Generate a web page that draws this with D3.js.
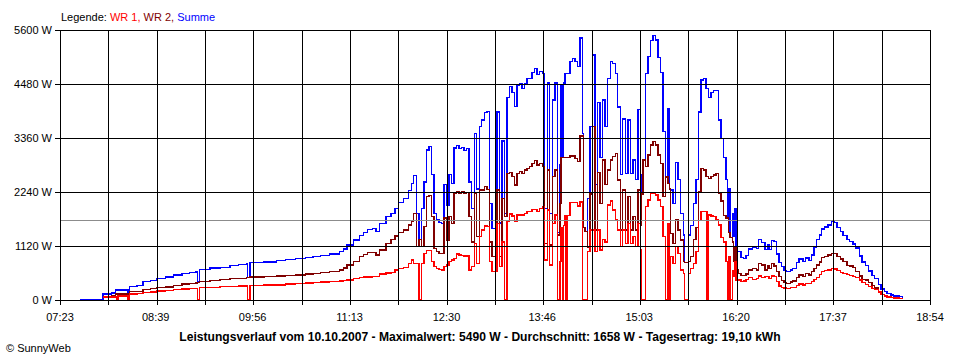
<!DOCTYPE html>
<html>
<head>
<meta charset="utf-8">
<script src="https://cdn.jsdelivr.net/npm/d3@7"></script>
<style>
  body { margin: 0; background: #fff; }
  svg text { font-family: "Liberation Sans", Arial, sans-serif; }
</style>
</head>
<body>
<svg id="chart" width="960" height="360"></svg>
<script>
// Leistungsverlauf 10.10.2007, values in W
const times = [
  "07:39", "07:57", "08:04", "08:07", "08:08", "08:09", "08:17", "08:18", "08:24", "08:29",
  "08:35", "08:40", "08:47", "08:53", "09:00", "09:06", "09:11", "09:12", "09:14", "09:22",
  "09:30", "09:38", "09:45", "09:51", "09:52", "09:54", "10:05", "10:15", "10:22", "10:30",
  "10:38", "10:44", "10:50", "10:57", "11:05", "11:08", "11:11", "11:16", "11:21", "11:24",
  "11:27", "11:31", "11:34", "11:37", "11:42", "11:46", "11:49", "11:52", "11:56", "12:00",
  "12:02", "12:04", "12:06", "12:08", "12:10", "12:12", "12:14", "12:16", "12:18", "12:20",
  "12:22", "12:24", "12:26", "12:28", "12:30", "12:32", "12:34", "12:36", "12:38", "12:40",
  "12:42", "12:44", "12:46", "12:48", "12:50", "12:52", "12:54", "12:56", "12:58", "13:00",
  "13:02", "13:04", "13:06", "13:08", "13:10", "13:12", "13:14", "13:16", "13:18", "13:20",
  "13:22", "13:24", "13:26", "13:28", "13:30", "13:32", "13:34", "13:36", "13:38", "13:40",
  "13:42", "13:44", "13:46", "13:48", "13:50", "13:52", "13:54", "13:56", "13:58", "14:00",
  "14:01", "14:02", "14:03", "14:04", "14:05", "14:06", "14:08", "14:10", "14:12", "14:14",
  "14:16", "14:18", "14:19", "14:20", "14:22", "14:24", "14:26", "14:28", "14:30", "14:32",
  "14:34", "14:36", "14:38", "14:40", "14:42", "14:44", "14:46", "14:48", "14:50", "14:52",
  "14:54", "14:56", "14:58", "15:00", "15:02", "15:04", "15:05", "15:06", "15:08", "15:10",
  "15:12", "15:14", "15:16", "15:18", "15:20", "15:22", "15:24", "15:26", "15:27", "15:28",
  "15:30", "15:32", "15:34", "15:36", "15:38", "15:39", "15:42", "15:44", "15:46", "15:48",
  "15:50", "15:52", "15:54", "15:56", "15:57", "15:58", "16:00", "16:02", "16:04", "16:06",
  "16:08", "16:10", "16:12", "16:13", "16:14", "16:15", "16:17", "16:18", "16:19", "16:20",
  "16:22", "16:24", "16:26", "16:28", "16:30", "16:33", "16:36", "16:38", "16:40", "16:43",
  "16:45", "16:46", "16:48", "16:50", "16:52", "16:54", "16:56", "16:58", "17:00", "17:03",
  "17:05", "17:08", "17:10", "17:13", "17:15", "17:18", "17:20", "17:22", "17:24", "17:26",
  "17:28", "17:30", "17:33", "17:36", "17:38", "17:40", "17:43", "17:45", "17:48", "17:50",
  "17:53", "17:55", "17:58", "18:00", "18:03", "18:05", "18:08", "18:10", "18:13", "18:15",
  "18:18", "18:20", "18:23", "18:25", "18:28", "18:30", "18:32"
];

const summe = [
  15, 124, 145, 207, 207, 207, 151, 276, 300, 380,
  410, 450, 475, 518, 545, 570, 590, 370, 637, 660,
  680, 710, 740, 760, 465, 775, 790, 815, 835, 855,
  880, 898, 925, 954, 1002, 1060, 1141, 1244, 1340, 1400,
  1466, 1487, 1417, 1591, 1728, 1800, 1900, 2018, 2100, 2270,
  2420, 2579, 1800, 1250, 1900, 2450, 3111, 3180, 2600, 1800,
  1659, 1604, 1590, 2400, 1970, 2600, 2419, 3150, 3201, 3145,
  3166, 3100, 3138, 2450, 1900, 3450, 2300, 3594, 3733, 3885,
  3906, 2000, 1486, 1486, 3900, 1600, 3300, 1800, 4200, 4424,
  4300, 4009, 4450, 4480, 4390, 4493, 4600, 4597, 4714, 4800,
  4680, 4735, 4701, 1900, 4500, 1800, 4148, 4500, 1400, 2800,
  4450, 2950, 4500, 4700, 4700, 4700, 4950, 5005, 4943, 4839,
  5430, 3450, 1500, 1417, 2100, 3600, 5081, 2400, 4100, 2950,
  4150, 3600, 4600, 4950, 4900, 4701, 4000, 2600, 3750, 2627,
  3733, 2627, 2900, 2500, 3950, 2600, 2200, 2900, 4701, 5050,
  5380, 5490, 5393, 5030, 4720, 3500, 2550, 3960, 2300, 2282,
  2000, 2850, 2500, 1800, 1348, 780, 1350, 1550, 2000, 2500,
  3900, 4563, 4600, 4390, 4390, 4200, 4300, 4350, 4350, 3733,
  3350, 2950, 2500, 1700, 2300, 1300, 1800, 1313, 1900, 1000,
  1003, 885, 860, 920, 1060, 1086, 1071, 1258, 1189, 1050,
  1150, 1050, 1230, 1210, 950, 774, 690, 615, 588, 622,
  657, 780, 851, 795, 870, 820, 930, 1086, 1250, 1350,
  1473, 1514, 1555, 1625, 1604, 1507, 1417, 1341, 1252, 1217,
  1162, 1080, 913, 789, 710, 600, 510, 440, 320, 229,
  180, 131, 104, 83, 83, 69, 28
];

const wr2 = [
  null, 62, 83, 124, 124, 124, 124, 172, 180, 222,
  235, 255, 270, 300, 330, 345, 355, 365, 380, 400,
  420, 440, 450, 465, 470, 475, 485, 500, 510, 518,
  540, 554, 570, 587, 622, 660, 726, 794, 898, 940,
  981, 981, 933, 1037, 1176, 1250, 1327, 1400, 1452, 1555,
  1625, 1800, 1106, 1250, 1106, 1521, 2143, 2164, 1728, 1071,
  1002, 968, 968, 1700, 1244, 1728, 1590, 2212, 2247, 2212,
  2247, 2212, 2226, 1728, 1200, 2212, 1313, 2281, 2281, 2350,
  2295, 1200, 898, 898, 2281, 900, 2100, 1728, 2627, 2641,
  2558, 2385, 2627, 2662, 2627, 2696, 2731, 2765, 2834, 2890,
  2800, 2834, 2765, 1175, 2696, 1140, 2558, 2696, 1350, 2000,
  2950, 2950, 2950, 2950, 2950, 2950, 2986, 2986, 2938, 2869,
  3400, 3400, 1500, 1417, 1100, 2200, 3600, 1452, 2650, 2005,
  2900, 2400, 2696, 2900, 2973, 3042, 2489, 1452, 2281, 1452,
  2143, 1452, 1728, 1452, 2281, 1550, 2200, 2900, 2765, 3007,
  3215, 3284, 3215, 3007, 2834, 2143, 2550, 2420, 2300, 1383,
  1175, 1659, 1452, 1244, 795, 780, 800, 900, 1250, 1500,
  2250, 2731, 2696, 2558, 2558, 2523, 2558, 2592, 2627, 2212,
  2050, 1750, 1700, 1700, 1400, 1300, 1200, 800, 1100, 620,
  553, 505, 505, 539, 622, 657, 622, 761, 726, 622,
  705, 650, 761, 705, 588, 484, 401, 366, 346, 373,
  394, 463, 519, 484, 553, 519, 588, 657, 726, 788,
  885, 906, 933, 968, 961, 899, 850, 795, 719, 705,
  678, 588, 498, 429, 415, 360, 304, 249, 173, 118,
  95, 69, 55, 45, 45, 35, 14
];

const wr1 = [
  null, 62, 62, 62, 0, 83, 0, 124, 135, 151,
  170, 187, 200, 222, 230, 238, 243, 0, 255, 262,
  276, 282, 290, 295, 0, 305, 311, 315, 330, 340,
  350, 359, 370, 380, 394, 405, 415, 440, 471, 475,
  480, 483, 490, 539, 560, 566, 622, 650, 678, 760,
  829, 760, 760, 0, 760, 968, 1023, 1023, 795, 691,
  657, 636, 622, 700, 726, 795, 829, 864, 954, 933,
  919, 912, 912, 622, 700, 1175, 760, 1313, 1452, 1535,
  1521, 800, 587, 587, 1590, 700, 1200, 0, 1624, 1783,
  1742, 1624, 1763, 1763, 1763, 1797, 1832, 1832, 1880, 1880,
  1832, 1901, 1936, 829, 1866, 726, 1590, 1763, 0, 800,
  1500, 0, 1550, 1750, 0, 1750, 2019, 2019, 2019, 1950,
  2030, 0, 0, 0, 1000, 1450, 1450, 1000, 1450, 1037,
  1250, 1200, 1970, 2050, 1866, 1659, 1452, 1106, 1450, 1175,
  1590, 1175, 1313, 1106, 1590, 1050, 0, 0, 1936, 2074,
  2212, 2212, 2178, 2074, 1936, 1313, 0, 1590, 0, 899,
  760, 1106, 968, 622, 553, 0, 550, 650, 760, 1000,
  1650, 1832, 1832, 1832, 0, 1763, 1742, 1728, 1659, 1555,
  1300, 1200, 800, 0, 900, 0, 600, 500, 800, 415,
  415, 380, 394, 429, 470, 429, 449, 498, 463, 484,
  484, 440, 498, 484, 380, 290, 263, 249, 242, 263,
  263, 297, 332, 311, 346, 346, 380, 429, 470, 533,
  588, 608, 622, 657, 643, 608, 567, 546, 533, 512,
  484, 470, 415, 360, 318, 277, 242, 214, 166, 111,
  85, 62, 50, 40, 40, 34, 14
];

const xTickLabels = ["07:23", "08:39", "09:56", "11:13", "12:30", "13:46", "15:03", "16:20", "17:37", "18:54"];
const yTicks = [0, 1120, 2240, 3360, 4480, 5600];
const average = 1658;
const title = "Leistungsverlauf vom 10.10.2007 - Maximalwert: 5490 W - Durchschnitt: 1658 W - Tagesertrag: 19,10 kWh";

const toMin = s => {
  const p = s.split(":");
  return +p[0] * 60 + +p[1];
};

const margin = {left: 60, right: 30, top: 30, bottom: 60};
const width = 960, height = 360;
const plotW = width - margin.left - margin.right;
const plotH = height - margin.top - margin.bottom;

const tStart = toMin(xTickLabels[0]);
const tEnd = toMin(xTickLabels[xTickLabels.length - 1]);

const x = d3.scaleLinear().domain([tStart, tEnd]).range([margin.left, margin.left + plotW]);
const y = d3.scaleLinear().domain([0, 5600]).range([margin.top + plotH, margin.top]);

const rows = times.map((t, i) => ({t: toMin(t), summe: summe[i], wr2: wr2[i], wr1: wr1[i]}));

const svg = d3.select("#chart");

// gridline positions: each label step is split in two
const gridT = d3.range(2 * (xTickLabels.length - 1) + 1)
  .map(i => tStart + i * (tEnd - tStart) / (2 * (xTickLabels.length - 1)));

svg.append("clipPath").attr("id", "plot-clip")
  .append("rect")
  .attr("x", margin.left).attr("y", margin.top - 1)
  .attr("width", plotW).attr("height", plotH + 1);

const series = [
  {key: "summe", color: "#0000ff"},
  {key: "wr2", color: "#800000"},
  {key: "wr1", color: "#ff0000"}
];

const lines = svg.append("g").attr("clip-path", "url(#plot-clip)");
series.forEach(s => {
  const line = d3.line()
    .defined(d => d[s.key] !== null)
    .x(d => x(d.t))
    .y(d => y(d[s.key]))
    .curve(d3.curveStepAfter);
  lines.append("path")
    .datum(rows)
    .attr("d", line)
    .attr("fill", "none")
    .attr("stroke", s.color)
    .attr("stroke-width", 1.4)
    .attr("shape-rendering", "crispEdges");
});

// average line
svg.append("line")
  .attr("x1", margin.left).attr("x2", margin.left + plotW)
  .attr("y1", Math.round(y(average)) + 0.5).attr("y2", Math.round(y(average)) + 0.5)
  .attr("stroke", "#8c8c8c")
  .attr("stroke-width", 1);

const grid = svg.append("g")
  .attr("stroke", "#000")
  .attr("stroke-width", 1)
  .attr("shape-rendering", "crispEdges");

gridT.forEach(t => {
  const px = Math.round(x(t)) + 0.5;
  grid.append("line")
    .attr("x1", px).attr("x2", px)
    .attr("y1", margin.top).attr("y2", margin.top + plotH + 5);
});

yTicks.forEach(v => {
  const py = Math.round(y(v)) + 0.5;
  grid.append("line")
    .attr("x1", margin.left - 5).attr("x2", margin.left + plotW)
    .attr("y1", py).attr("y2", py);
});

// axis labels
svg.append("g")
  .selectAll("text")
  .data(yTicks)
  .enter().append("text")
  .attr("x", margin.left - 8)
  .attr("y", d => y(d) + 4)
  .attr("text-anchor", "end")
  .attr("font-size", 11)
  .text(d => d + " W");

svg.append("g")
  .selectAll("text")
  .data(xTickLabels)
  .enter().append("text")
  .attr("x", d => x(toMin(d)))
  .attr("y", margin.top + plotH + 21)
  .attr("text-anchor", "middle")
  .attr("font-size", 11)
  .text(d => d);

// legend
const legend = svg.append("text")
  .attr("x", margin.left + 1)
  .attr("y", 21)
  .attr("font-size", 11);
legend.append("tspan").attr("fill", "#000").text("Legende: ");
legend.append("tspan").attr("fill", "#ff0000").text("WR 1, ");
legend.append("tspan").attr("fill", "#800000").text("WR 2, ");
legend.append("tspan").attr("fill", "#0000ff").text("Summe");

svg.append("text")
  .attr("x", 480)
  .attr("y", 341)
  .attr("text-anchor", "middle")
  .attr("font-size", 12.1)
  .attr("font-weight", "bold")
  .text(title);

svg.append("text")
  .attr("x", 6)
  .attr("y", 352)
  .attr("font-size", 11)
  .text("\u00a9 SunnyWeb");
</script>
</body>
</html>
